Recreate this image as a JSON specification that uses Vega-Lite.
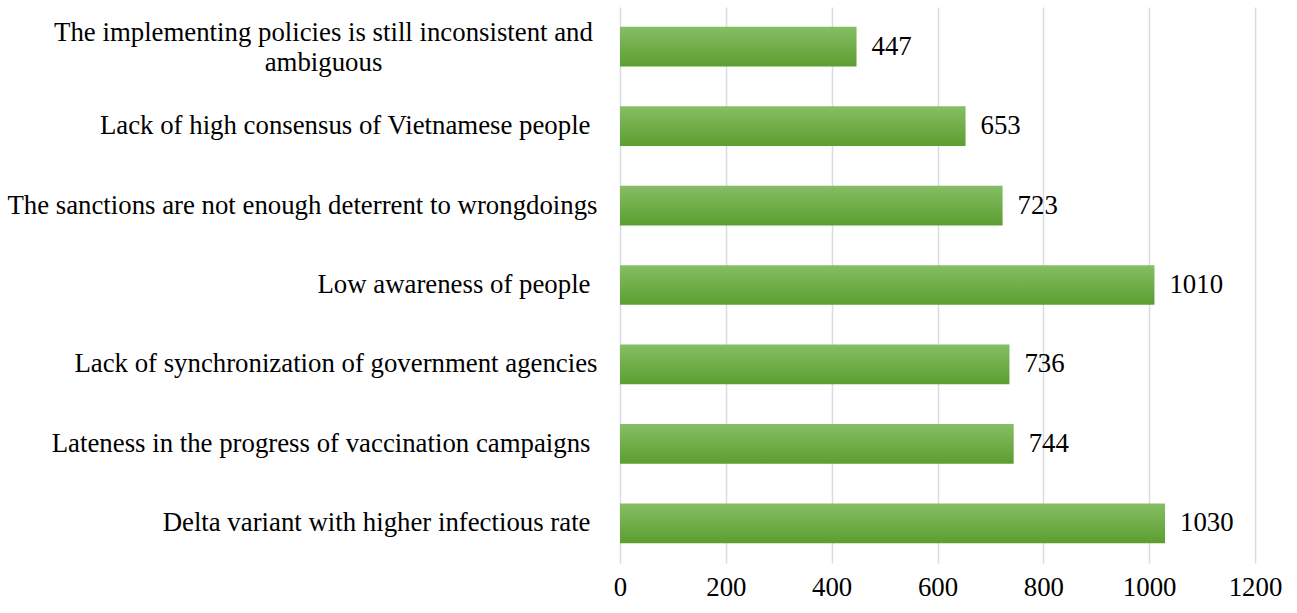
{
  "$schema": "https://vega.github.io/schema/vega-lite/v6.json",
  "width": 635,
  "height": 556,
  "autosize": {"type": "none"},
  "padding": {"left": 620, "top": 7, "right": 42, "bottom": 50},
  "background": "white",
  "config": {"view": {"stroke": null}, "font": "Liberation Serif"},
  "data": {"values": [
    {"reason": "The implementing policies is still inconsistent and ambiguous", "count": 447},
    {"reason": "Lack of high consensus of Vietnamese people ", "count": 653},
    {"reason": "The sanctions are not enough deterrent to wrongdoings", "count": 723},
    {"reason": "Low awareness of people ", "count": 1010},
    {"reason": "Lack of synchronization of  government agencies", "count": 736},
    {"reason": "Lateness in the progress of vaccination campaigns ", "count": 744},
    {"reason": "Delta variant with higher infectious rate ", "count": 1030}
  ]},
  "encoding": {
    "y": {
      "field": "reason", "type": "nominal", "sort": null, "title": null,
      "scale": {"paddingInner": 0.5, "paddingOuter": 0.25},
      "axis": {
        "domain": false, "ticks": false,
        "labelFont": "Liberation Serif", "labelFontSize": 26.8, "labelColor": "#000000",
        "labelLimit": 700, "labelLineHeight": 30,
        "labelAlign": {"condition": {"test": "indexof(datum.value, 'implementing') >= 0", "value": "center"}, "value": "right"},
        "labelOffset": {"condition": {"test": "indexof(datum.value, 'implementing') >= 0", "value": -14}, "value": 0},
        "labelPadding": {"condition": [
          {"test": "indexof(datum.value, 'implementing') >= 0", "value": 297},
          {"test": "substring(datum.value, length(datum.value) - 1) == ' '", "value": 30}
        ], "value": 23},
        "labelExpr": "indexof(datum.value, 'implementing') >= 0 ? ['The implementing policies is still inconsistent and', 'ambiguous'] : datum.value"
      }
    }
  },
  "layer": [
    {
      "mark": {"type": "bar", "color": {"gradient": "linear", "x1": 0, "y1": 0, "x2": 0, "y2": 1, "stops": [{"offset": 0, "color": "#86BE64"}, {"offset": 1, "color": "#5C9E31"}]}},
      "encoding": {
        "x": {
          "field": "count", "type": "quantitative", "title": null,
          "scale": {"domain": [0, 1200]},
          "axis": {
            "values": [0, 200, 400, 600, 800, 1000, 1200], "format": "d",
            "domain": false, "ticks": false, "grid": true, "gridColor": "#D9DCE1", "gridWidth": 1.5,
            "labelFont": "Liberation Serif", "labelFontSize": 26.8, "labelColor": "#000000",
            "labelPadding": 11, "labelFlush": false
          }
        }
      }
    },
    {
      "mark": {"type": "text", "align": "left", "dx": 15, "font": "Liberation Serif", "fontSize": 26.8, "color": "#000000"},
      "encoding": {
        "x": {"field": "count", "type": "quantitative"},
        "text": {"field": "count", "type": "quantitative"}
      }
    }
  ]
}
